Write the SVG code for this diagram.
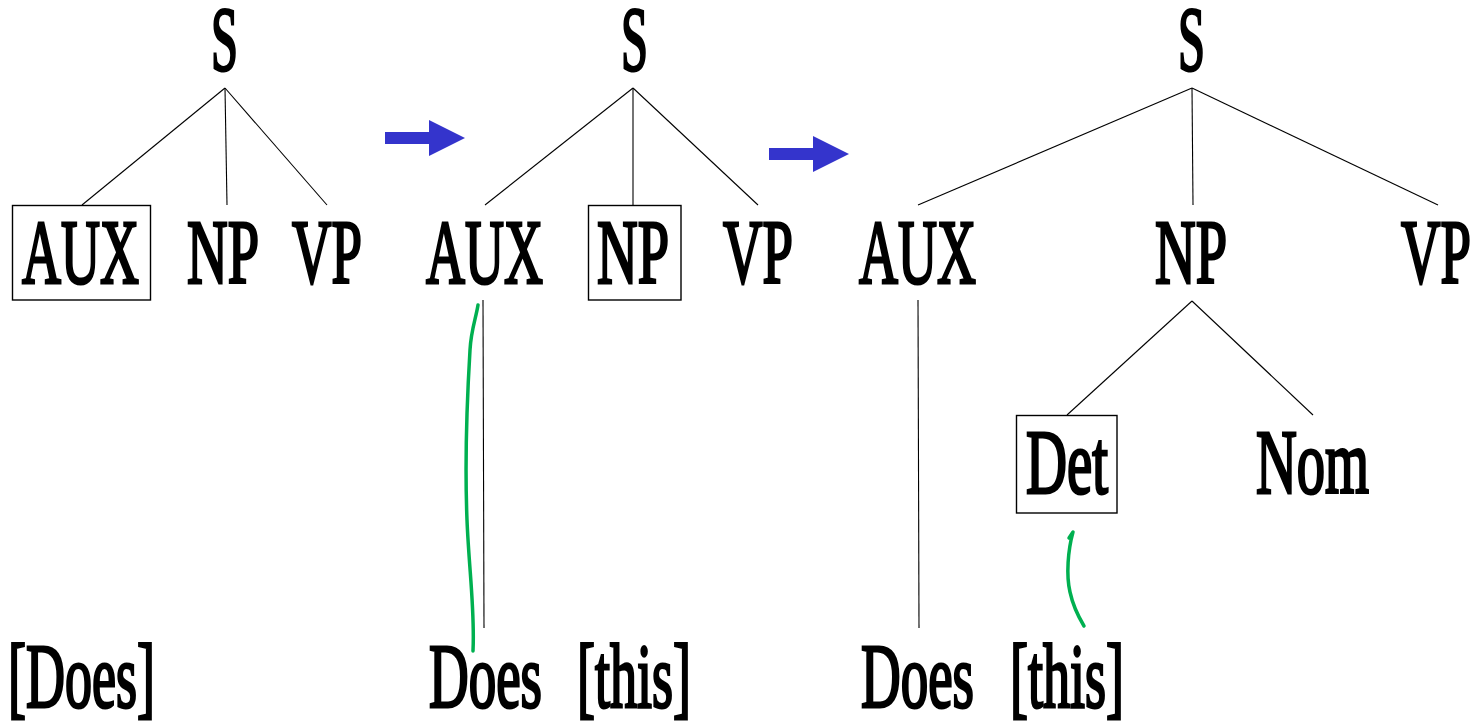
<svg xmlns="http://www.w3.org/2000/svg" width="1482" height="723" viewBox="0 0 1482 723">
<style>
text{font-family:"Liberation Serif","Times New Roman",serif;font-size:92px;fill:#000;stroke:#000;stroke-width:3;stroke-linejoin:miter}
.e{stroke:#000;stroke-width:1.1;fill:none}
.box{fill:none;stroke:#000;stroke-width:1.4}
.arrow{fill:#3434cc}
.mark{fill:none;stroke:#00b050;stroke-width:3.5;stroke-linecap:round;stroke-linejoin:round}
</style>
<rect width="1482" height="723" fill="#fff"/>
<g id="connectors">
<line class="e" x1="225" y1="88" x2="82" y2="205"/>
<line class="e" x1="225" y1="88" x2="227" y2="205"/>
<line class="e" x1="225" y1="88" x2="327" y2="205"/>
<line class="e" x1="633" y1="88" x2="485" y2="205"/>
<line class="e" x1="633" y1="88" x2="633" y2="205"/>
<line class="e" x1="633" y1="88" x2="758" y2="205"/>
<line class="e" x1="483" y1="300" x2="484" y2="628"/>
<line class="e" x1="1192" y1="88" x2="918" y2="205"/>
<line class="e" x1="1192" y1="88" x2="1193" y2="205"/>
<line class="e" x1="1192" y1="88" x2="1438" y2="205"/>
<line class="e" x1="918" y1="300" x2="919" y2="628"/>
<line class="e" x1="1192" y1="301" x2="1067" y2="415"/>
<line class="e" x1="1192" y1="301" x2="1313" y2="415"/>
</g>
<g id="arrows">
<polygon class="arrow" points="385,132 429,132 429,120 465,138 429,156 429,144 385,144"/>
<polygon class="arrow" points="769,148 813,148 813,136 849,154 813,172 813,160 769,160"/>
</g>
<g id="tree1">
<g id="t1-S"><text x="211" y="70" textLength="27" lengthAdjust="spacingAndGlyphs">S</text></g>
<g id="t1-AUX"><rect class="box" x="12.5" y="205.5" width="138" height="94.5"/><text x="22" y="283" textLength="117" lengthAdjust="spacingAndGlyphs">AUX</text></g>
<g id="t1-NP"><text x="187" y="283" textLength="72" lengthAdjust="spacingAndGlyphs">NP</text></g>
<g id="t1-VP"><text x="292" y="283" textLength="70" lengthAdjust="spacingAndGlyphs">VP</text></g>
<g id="t1-Does"><text x="8" y="707" textLength="147" lengthAdjust="spacingAndGlyphs">[Does]</text></g>
</g>
<g id="tree2">
<g id="t2-S"><text x="621" y="70" textLength="27" lengthAdjust="spacingAndGlyphs">S</text></g>
<g id="t2-AUX"><text x="426" y="283" textLength="117" lengthAdjust="spacingAndGlyphs">AUX</text></g>
<g id="t2-NP"><rect class="box" x="588.5" y="205.5" width="92.5" height="94.5"/><text x="597" y="283" textLength="72" lengthAdjust="spacingAndGlyphs">NP</text></g>
<g id="t2-VP"><text x="723" y="283" textLength="70" lengthAdjust="spacingAndGlyphs">VP</text></g>
<g id="t2-Does"><text x="429" y="707" textLength="113" lengthAdjust="spacingAndGlyphs">Does</text></g>
<g id="t2-this"><text x="577" y="707" textLength="114" lengthAdjust="spacingAndGlyphs">[this]</text></g>
<path class="mark" d="M478,305 C476,318 471,330 470,350 C467,400 465,470 467,520 C469,570 475,610 473,651"/>
</g>
<g id="tree3">
<g id="t3-S"><text x="1178" y="70" textLength="27" lengthAdjust="spacingAndGlyphs">S</text></g>
<g id="t3-AUX"><text x="859" y="283" textLength="117" lengthAdjust="spacingAndGlyphs">AUX</text></g>
<g id="t3-NP"><text x="1155" y="283" textLength="72" lengthAdjust="spacingAndGlyphs">NP</text></g>
<g id="t3-VP"><text x="1401" y="283" textLength="70" lengthAdjust="spacingAndGlyphs">VP</text></g>
<g id="t3-Det"><rect class="box" x="1016.5" y="415.5" width="100.5" height="97.5"/><text x="1026" y="493" textLength="82" lengthAdjust="spacingAndGlyphs">Det</text></g>
<g id="t3-Nom"><text x="1256" y="493" textLength="113" lengthAdjust="spacingAndGlyphs">Nom</text></g>
<g id="t3-Does"><text x="861" y="707" textLength="113" lengthAdjust="spacingAndGlyphs">Does</text></g>
<g id="t3-this"><text x="1010" y="707" textLength="114" lengthAdjust="spacingAndGlyphs">[this]</text></g>
<path class="mark" d="M1069,538 L1073,532 C1068,550 1066,575 1070,592 C1073,606 1078,616 1084,626"/>
</g>
</svg>
